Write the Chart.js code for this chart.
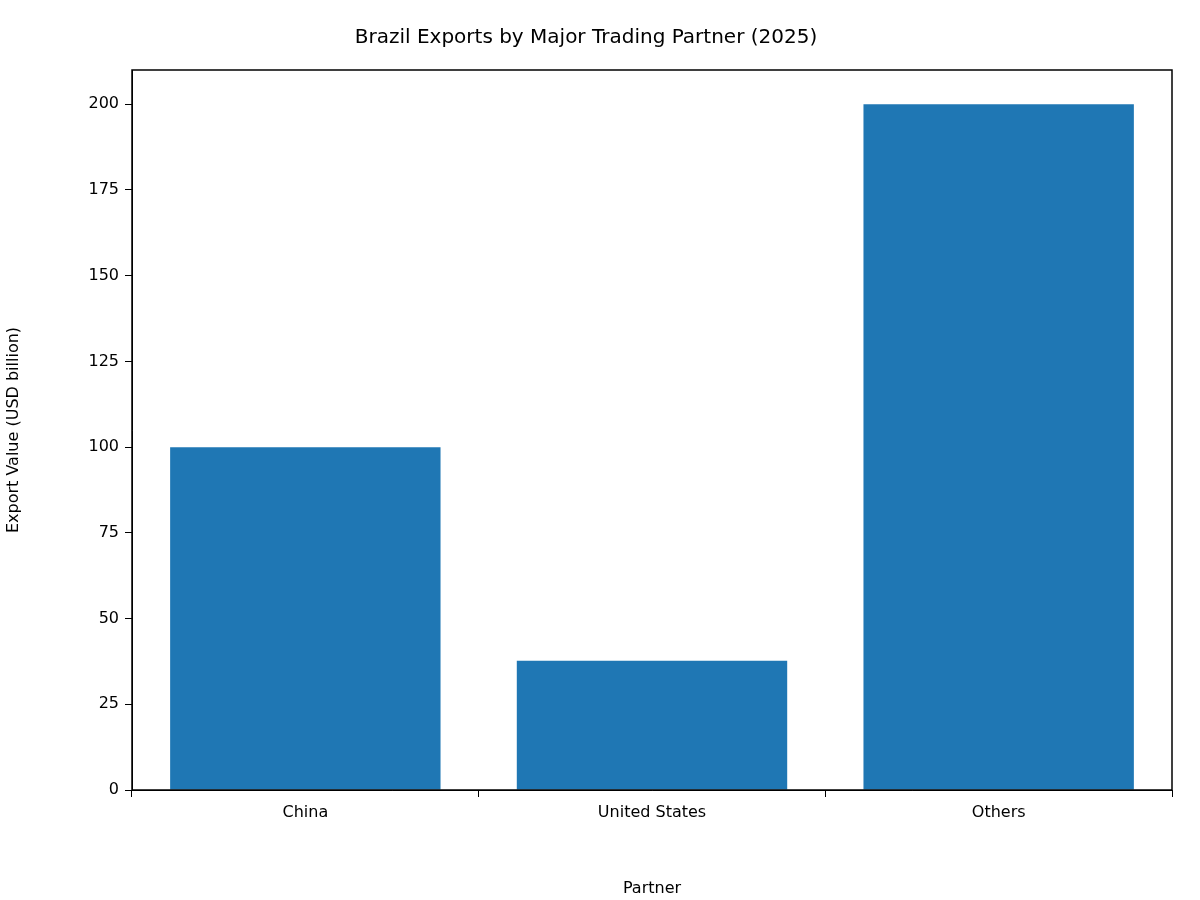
<!DOCTYPE html>
<html><head><meta charset="utf-8">
<script src="https://cdn.jsdelivr.net/npm/chart.js@4/dist/chart.umd.min.js"></script>
<style>body{margin:0;background:#fff}</style>
</head><body>
<canvas id="c" width="1200" height="900"></canvas>
<script>
'use strict';
const partners = ['China', 'United States', 'Others'];
const exportValues = [100, 37.7, 200];
const yTicks = [0, 25, 50, 75, 100, 125, 150, 175, 200];

const frame = { id: 'frame', afterDraw(ch) {
  const a = ch.chartArea, ctx = ch.ctx;
  ctx.save(); ctx.strokeStyle = '#000'; ctx.lineWidth = 1.5;
  ctx.strokeRect(a.left, a.top, a.right - a.left, a.bottom - a.top); ctx.restore();
}};
const font = { family: 'DejaVu Sans', size: 16 };
new Chart(document.getElementById('c'), {
  type: 'bar',
  data: { labels: partners, datasets: [{ data: exportValues, backgroundColor: '#1f77b4', barPercentage: 0.78, categoryPercentage: 1 }] },
  options: {
    responsive: false, devicePixelRatio: 1, animation: false,
    layout: { padding: { right: 28, left: 0 } },
    plugins: {
      legend: { display: false },
      title: { display: true, text: 'Brazil Exports by Major Trading Partner (2025)', color: '#000',
        font: { family: 'DejaVu Sans', size: 20, weight: 'normal' }, padding: { top: 26, bottom: 20 } }
    },
    scales: {
      x: { grid: { drawOnChartArea: false, color: '#000', tickLength: 7 }, border: { color: '#000' },
        ticks: { color: '#000', font, padding: 6 },
        title: { display: true, text: 'Partner', color: '#000', font, padding: 2 },
        afterFit(s) { s.height = 110; } },
      y: { min: 0, max: 210, grid: { drawOnChartArea: false, color: '#000', tickLength: 7 }, border: { color: '#000' },
        afterBuildTicks(s) { s.ticks = yTicks.map(v => ({ value: v })); },
        ticks: { color: '#000', font, padding: 6 },
        title: { display: true, text: 'Export Value (USD billion)', color: '#000', font, padding: 4 },
        afterFit(s) { s.width = 132; } }
    }
  },
  plugins: [frame]
});
</script>
</body></html>
